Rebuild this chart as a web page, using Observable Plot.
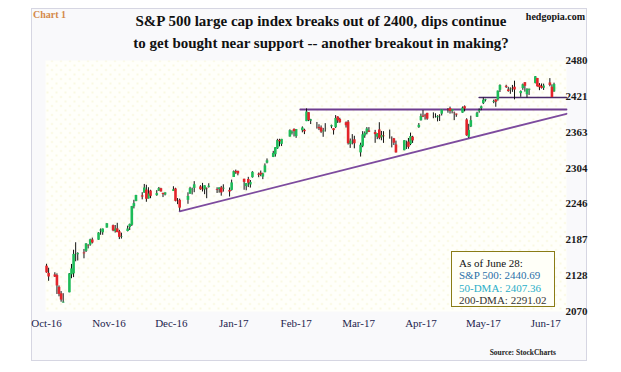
<!DOCTYPE html>
<html><head><meta charset="utf-8">
<script src="https://cdn.jsdelivr.net/npm/d3@7"></script>
<script src="https://cdn.jsdelivr.net/npm/@observablehq/plot@0.6"></script>
<style>
body{margin:0;background:#fff;}
#wrap{position:relative;width:621px;height:372px;overflow:hidden;font-family:"Liberation Serif","DejaVu Serif",serif;}
#frame{position:absolute;left:31px;top:8px;width:556px;height:353px;border:1px solid #d6d6e2;background:#f9f9fb;box-sizing:border-box;}
#chart{position:absolute;left:0;top:0;}
.t{position:absolute;white-space:nowrap;line-height:1;}
#box{position:absolute;left:451px;top:251px;width:104px;height:56px;box-sizing:border-box;border:1.5px solid #8a7c16;background:#fffff8;font-size:11px;padding:5px 0 0 7px;line-height:12.4px;}
</style></head><body>
<div id="wrap">
<div id="frame"></div>
<div id="chart"></div>
<div class="t" style="left:33px;top:10px;font-size:10px;font-weight:bold;color:#d4894a;">Chart 1</div>
<div class="t" style="right:36px;top:12px;font-size:10px;font-weight:bold;color:#111;">hedgopia.com</div>
<div class="t" style="left:321px;top:14px;transform:translateX(-50%);font-size:15px;font-weight:bold;color:#111;">S&amp;P 500 large cap index breaks out of 2400, dips continue</div>
<div class="t" style="left:321px;top:36px;transform:translateX(-50%);font-size:15px;font-weight:bold;color:#111;">to get bought near support -- another breakout in making?</div>
<div class="t" style="right:65px;top:349px;font-size:7.5px;font-weight:bold;color:#222;">Source: StockCharts</div>
<div id="box">
<div style="color:#111">As of June 28:</div>
<div style="color:#2b6fa8">S&amp;P 500: 2440.69</div>
<div style="color:#2aaec8">50-DMA: 2407.36</div>
<div style="color:#333">200-DMA: 2291.02</div>
</div>
</div>
<script>
const dates = [
"2016-10-27","2016-10-28","2016-10-31","2016-11-01","2016-11-02","2016-11-03","2016-11-04","2016-11-07","2016-11-08","2016-11-09","2016-11-10","2016-11-11","2016-11-14","2016-11-15","2016-11-16","2016-11-17","2016-11-18","2016-11-21","2016-11-22","2016-11-23","2016-11-25","2016-11-28","2016-11-29","2016-11-30",
"2016-12-01","2016-12-02","2016-12-05","2016-12-06","2016-12-07","2016-12-08","2016-12-09","2016-12-12","2016-12-13","2016-12-14","2016-12-15","2016-12-16","2016-12-19","2016-12-20","2016-12-21","2016-12-22","2016-12-23","2016-12-27","2016-12-28","2016-12-29","2016-12-30",
"2017-01-03","2017-01-04","2017-01-05","2017-01-06","2017-01-09","2017-01-10","2017-01-11","2017-01-12","2017-01-13","2017-01-17","2017-01-18","2017-01-19","2017-01-20","2017-01-23","2017-01-24","2017-01-25","2017-01-26","2017-01-27","2017-01-30","2017-01-31",
"2017-02-01","2017-02-02","2017-02-03","2017-02-06","2017-02-07","2017-02-08","2017-02-09","2017-02-10","2017-02-13","2017-02-14","2017-02-15","2017-02-16","2017-02-17","2017-02-21","2017-02-22","2017-02-23","2017-02-24","2017-02-27","2017-02-28",
"2017-03-01","2017-03-02","2017-03-03","2017-03-06","2017-03-07","2017-03-08","2017-03-09","2017-03-10","2017-03-13","2017-03-14","2017-03-15","2017-03-16","2017-03-17","2017-03-20","2017-03-21","2017-03-22","2017-03-23","2017-03-24","2017-03-27","2017-03-28","2017-03-29","2017-03-30","2017-03-31",
"2017-04-03","2017-04-04","2017-04-05","2017-04-06","2017-04-07","2017-04-10","2017-04-11","2017-04-12","2017-04-13","2017-04-17","2017-04-18","2017-04-19","2017-04-20","2017-04-21","2017-04-24","2017-04-25","2017-04-26","2017-04-27","2017-04-28",
"2017-05-01","2017-05-02","2017-05-03","2017-05-04","2017-05-05","2017-05-08","2017-05-09","2017-05-10","2017-05-11","2017-05-12","2017-05-15","2017-05-16","2017-05-17","2017-05-18","2017-05-19","2017-05-22","2017-05-23","2017-05-24","2017-05-25","2017-05-26","2017-05-30","2017-05-31",
"2017-06-01","2017-06-02","2017-06-05","2017-06-06","2017-06-07","2017-06-08","2017-06-09","2017-06-12","2017-06-13","2017-06-14","2017-06-15","2017-06-16","2017-06-19","2017-06-20","2017-06-21","2017-06-22","2017-06-23","2017-06-26","2017-06-27","2017-06-28"
];
const open = [
2144.06,2132.23,2129.78,2128.68,2109.43,2098.80,2083.79,2100.59,2129.92,2131.56,2167.49,2162.71,2165.64,2168.29,2177.53,2178.61,2186.85,2186.43,2201.56,2198.55,2206.27,2210.21,2200.76,2204.97,
2200.17,2191.12,2200.65,2207.26,2210.72,2241.13,2249.73,2258.83,2263.32,2268.35,2253.77,2266.81,2259.24,2266.50,2270.54,2262.93,2260.25,2266.23,2270.23,2249.50,2251.61,
2251.57,2261.60,2268.18,2271.14,2273.59,2269.72,2268.60,2271.14,2272.74,2269.14,2269.14,2271.90,2269.96,2267.78,2267.88,2288.88,2298.63,2299.02,2286.01,2274.02,
2285.59,2276.69,2288.54,2294.28,2295.87,2289.55,2296.70,2312.27,2321.72,2326.12,2335.58,2349.64,2343.01,2354.91,2361.11,2367.50,2355.73,2365.23,2366.08,
2380.13,2394.75,2380.92,2375.23,2370.74,2369.81,2363.49,2372.52,2371.56,2368.55,2370.34,2387.71,2383.71,2378.24,2379.32,2343.00,2345.97,2350.42,2329.11,2339.79,2356.54,2361.31,2364.82,
2362.34,2354.76,2366.59,2353.79,2356.59,2357.16,2353.92,2352.15,2341.98,2332.62,2342.53,2346.79,2342.69,2354.74,2370.33,2381.51,2388.98,2389.70,2393.68,
2388.50,2391.05,2386.50,2389.79,2392.37,2399.94,2401.58,2396.79,2394.84,2392.44,2393.98,2404.55,2382.95,2354.69,2371.37,2387.21,2397.04,2401.41,2409.54,2414.50,2411.67,2415.63,
2415.65,2431.28,2437.83,2431.92,2432.03,2434.27,2436.39,2425.88,2434.15,2443.75,2424.14,2431.24,2442.55,2450.66,2439.31,2437.40,2434.65,2443.32,2436.34,2428.70
];
const high = [
2147.13,2140.72,2133.25,2131.45,2111.76,2102.56,2099.07,2132.00,2146.87,2170.10,2182.30,2165.92,2171.36,2180.84,2179.22,2188.06,2189.89,2198.70,2204.80,2204.72,2213.35,2211.14,2210.46,2214.10,
2202.60,2197.95,2209.42,2212.78,2241.63,2251.69,2259.80,2264.03,2277.53,2276.20,2272.12,2268.05,2267.47,2272.56,2271.23,2263.18,2263.79,2273.82,2271.31,2254.51,2253.58,
2263.88,2272.82,2271.50,2282.10,2275.49,2279.27,2275.32,2271.78,2278.68,2272.08,2272.01,2274.33,2276.96,2271.78,2284.63,2299.55,2300.99,2299.02,2286.01,2279.09,
2289.14,2283.97,2298.31,2296.18,2299.40,2295.91,2311.08,2319.23,2331.58,2337.58,2351.30,2351.31,2351.16,2366.71,2365.13,2368.26,2367.34,2371.54,2367.79,
2400.98,2394.75,2383.89,2378.80,2375.12,2373.09,2369.08,2376.86,2374.42,2368.55,2390.01,2388.10,2385.71,2379.55,2381.93,2351.81,2358.92,2356.22,2344.90,2363.78,2363.36,2370.42,2370.35,
2365.87,2360.53,2378.36,2364.16,2363.76,2366.37,2355.22,2352.72,2348.26,2349.14,2348.35,2352.63,2361.37,2356.18,2376.98,2392.48,2398.16,2392.10,2393.68,
2394.49,2392.93,2389.82,2391.43,2399.29,2401.36,2403.87,2399.74,2395.72,2392.44,2404.05,2405.77,2384.87,2375.74,2389.06,2395.46,2400.85,2405.58,2418.71,2416.68,2415.26,2415.99,
2430.06,2440.23,2439.55,2436.21,2435.28,2439.27,2446.20,2430.38,2441.49,2443.75,2433.95,2433.15,2453.82,2450.66,2442.23,2441.62,2441.40,2450.42,2440.15,2442.97
];
const low = [
2132.52,2119.36,2125.53,2097.85,2094.00,2085.23,2083.79,2100.59,2123.56,2125.35,2151.17,2152.49,2156.08,2166.38,2172.20,2176.65,2180.38,2186.43,2194.51,2194.51,2206.27,2200.36,2198.15,2198.81,
2187.44,2188.37,2199.97,2202.21,2208.93,2237.57,2249.23,2252.37,2263.32,2248.44,2253.77,2254.24,2258.21,2266.14,2265.15,2256.08,2258.84,2266.15,2249.11,2244.56,2233.62,
2245.13,2261.60,2260.45,2264.06,2268.04,2265.27,2260.83,2254.25,2271.51,2262.81,2263.35,2258.41,2265.01,2257.02,2266.68,2288.88,2294.08,2291.62,2268.04,2267.21,
2272.44,2271.65,2287.88,2288.57,2290.16,2285.38,2296.61,2311.10,2321.42,2322.17,2334.81,2338.87,2339.58,2354.91,2358.34,2355.09,2352.87,2361.87,2358.96,
2380.13,2380.17,2375.39,2367.98,2365.51,2361.01,2354.54,2363.04,2368.52,2358.18,2368.94,2377.18,2377.64,2369.66,2341.90,2336.45,2342.13,2335.74,2322.25,2337.63,2352.94,2358.58,2362.60,
2344.73,2350.72,2350.52,2348.90,2344.65,2351.50,2337.25,2341.18,2328.95,2332.51,2334.54,2335.05,2340.91,2344.51,2369.19,2381.15,2386.78,2382.68,2382.36,
2384.83,2385.82,2379.75,2380.35,2389.38,2393.92,2392.44,2392.79,2381.74,2387.19,2393.94,2396.05,2356.21,2352.72,2370.43,2386.92,2393.88,2397.99,2408.01,2412.20,2409.43,2403.59,
2413.54,2427.71,2434.32,2428.12,2424.75,2427.94,2415.70,2419.97,2431.28,2428.34,2418.53,2422.88,2441.79,2436.60,2430.74,2433.27,2431.11,2437.03,2419.38,2428.02
];
const close = [
2133.04,2126.41,2126.15,2111.72,2097.94,2088.66,2085.18,2131.52,2139.56,2163.26,2167.48,2164.45,2164.20,2180.39,2176.94,2187.12,2181.90,2198.18,2202.94,2204.72,2213.35,2201.72,2204.66,2198.81,
2191.08,2191.95,2204.71,2212.23,2241.35,2246.19,2259.53,2256.96,2271.72,2253.28,2262.03,2258.07,2262.53,2270.76,2265.18,2260.96,2263.79,2268.88,2249.92,2249.26,2238.83,
2257.83,2270.75,2269.00,2276.98,2268.90,2268.90,2275.32,2270.44,2274.64,2267.89,2271.89,2263.69,2271.31,2265.20,2280.07,2298.37,2296.68,2294.69,2280.90,2278.87,
2279.55,2280.85,2297.42,2292.56,2293.08,2294.67,2307.87,2316.10,2328.25,2337.58,2349.25,2347.22,2351.16,2365.38,2362.82,2363.81,2367.34,2369.75,2363.64,
2395.96,2381.92,2383.12,2375.31,2368.39,2362.98,2364.87,2372.60,2373.47,2365.45,2385.26,2381.38,2378.25,2373.47,2344.02,2348.45,2345.96,2343.98,2341.59,2358.57,2361.13,2368.06,2362.72,
2358.84,2360.16,2352.95,2357.49,2355.54,2357.16,2353.78,2344.93,2328.95,2349.01,2342.19,2338.17,2355.84,2348.69,2374.15,2388.61,2387.45,2388.77,2384.20,
2388.33,2391.17,2388.13,2389.52,2399.29,2399.38,2396.92,2399.63,2394.44,2390.90,2402.32,2400.67,2357.03,2365.72,2381.73,2394.02,2398.42,2404.39,2415.07,2415.82,2412.91,2411.80,
2430.06,2439.07,2436.10,2429.33,2433.14,2433.79,2431.77,2429.39,2440.35,2437.92,2432.46,2433.15,2453.46,2437.03,2435.61,2434.50,2438.30,2439.07,2419.38,2440.69
];

// Axis ticks
const xTickDates = ["2016-10-27","2016-11-26","2016-12-26","2017-01-25","2017-02-24","2017-03-26","2017-04-25","2017-05-25","2017-06-24"];
const yTickValues = [2070, 2128.57, 2187.14, 2245.71, 2304.29, 2362.86, 2421.43, 2480];
const yTickLabels = ["2070","2128","2187","2246","2304","2363","2421","2480"];

// Drawn support / resistance lines
const resistDates = ["2017-02-26","2017-07-04"], resistValues = [2400, 2400];
const upperDates = ["2017-05-23","2017-07-04"], upperValues = [2419.5, 2419.5];
const trendDates = ["2016-12-30","2017-07-04"], trendValues = [2233.6, 2393];

const rows = dates.map((d, i) => ({date: new Date(d), open: open[i], high: high[i], low: low[i], close: close[i]}));
const toLine = (ds, vs) => ds.map((d, i) => ({date: new Date(d), value: vs[i]}));
const yLabel = new Map(yTickValues.map((v, i) => [v, yTickLabels[i]]));
const fmtX = d3.utcFormat("%b-%y");

const up = "#1dbb58", down = "#e3242b";

const chart = Plot.plot({
  width: 621, height: 372,
  marginLeft: 45, marginRight: 55, marginTop: 60, marginBottom: 61,
  style: {background: "transparent", fontFamily: "'Liberation Serif', serif", overflow: "visible"},
  x: {type: "utc", domain: [new Date("2016-10-26T12:00Z"), new Date("2017-07-04")], label: null},
  y: {domain: [2070, 2480], label: null},
  marks: [
    Plot.frame({fill: "url(#dots)", stroke: null}),
    Plot.axisY(yTickValues, {anchor: "right", tickSize: 0, tickPadding: 0, dx: -1, tickFormat: d => yLabel.get(d), fontSize: 11, fontWeight: "bold", fill: "#1a1a1a", label: null}),
    Plot.axisX(xTickDates.map(d => new Date(d)), {anchor: "bottom", tickSize: 0, tickPadding: 8, tickFormat: fmtX, fontSize: 11, fill: "#1e1e4e", label: null}),
    Plot.line(toLine(trendDates, trendValues), {x: "date", y: "value", stroke: "#7d4b9e", strokeWidth: 1.8}),
    Plot.line(toLine(resistDates, resistValues), {x: "date", y: "value", stroke: "#6e3d8f", strokeWidth: 1.8}),
    Plot.line(toLine(upperDates, upperValues), {x: "date", y: "value", stroke: "#4a2a6a", strokeWidth: 1.6}),
    Plot.ruleX(rows, {x: "date", y1: "low", y2: "high", stroke: "#111", strokeWidth: 1}),
    Plot.ruleX(rows.filter(d => d.close >= d.open), {x: "date", y1: "open", y2: "close", stroke: up, strokeWidth: 2.6}),
    Plot.ruleX(rows.filter(d => d.close < d.open), {x: "date", y1: "open", y2: "close", stroke: down, strokeWidth: 2.6})
  ]
});
const defs = document.createElementNS("http://www.w3.org/2000/svg", "defs");
defs.innerHTML = '<pattern id="dots" width="9" height="9" patternUnits="userSpaceOnUse"><rect width="9" height="9" fill="#fffffa"/><circle cx="2" cy="2" r="0.8" fill="#f3f0c4"/><circle cx="6.5" cy="6.5" r="0.8" fill="#f3f0c4"/></pattern>';
chart.prepend(defs);
document.getElementById("chart").appendChild(chart);
</script>
</body></html>
